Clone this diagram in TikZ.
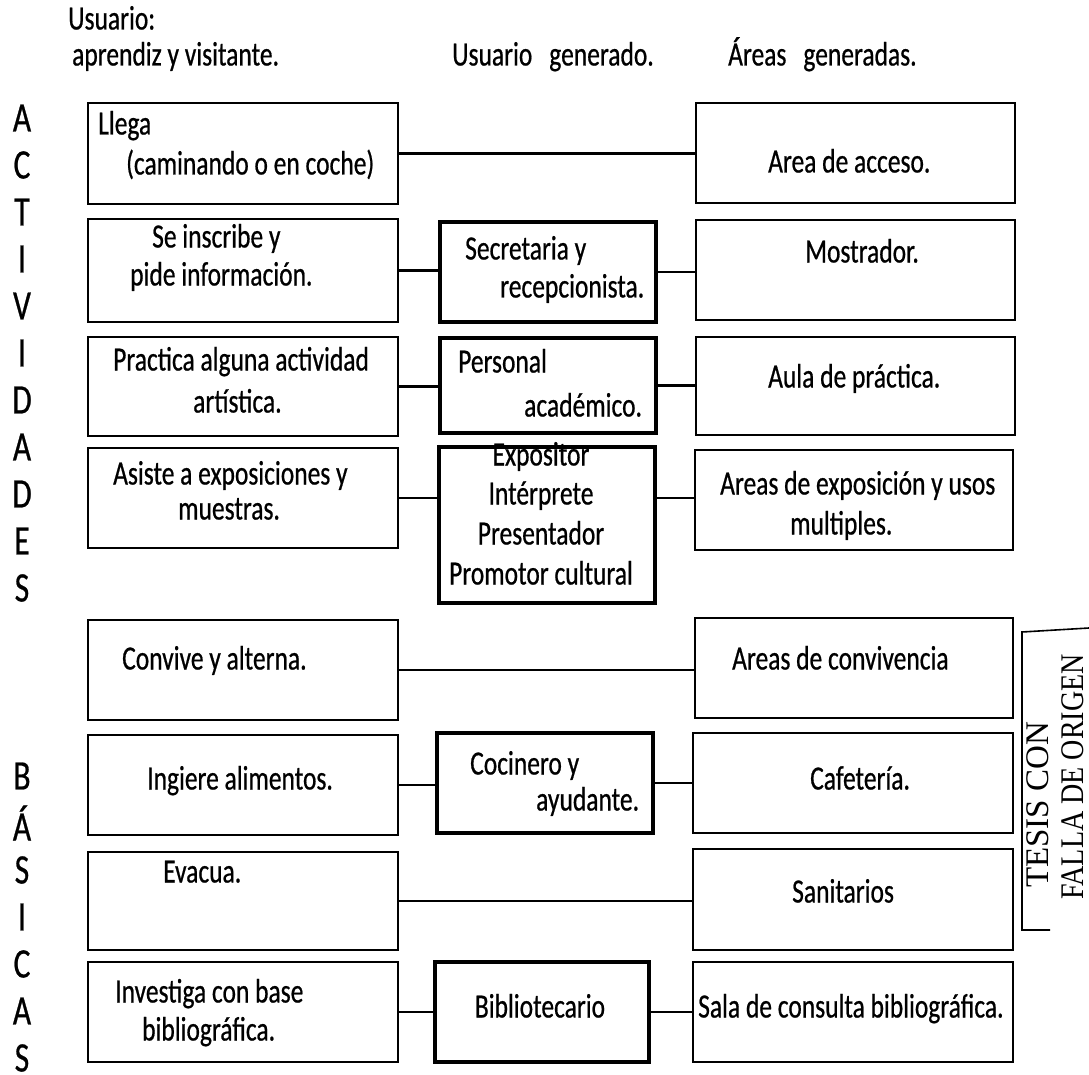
\documentclass[tikz,border=0pt]{standalone}
\usepackage{fontspec}
\setmainfont{Carlito}[FakeStretch=0.75, FakeBold=0.6]
\newfontfamily\stampfont{Liberation Serif}
\begin{document}
\begin{tikzpicture}[x=1pt,y=-1pt,
  box/.style={draw, line width=2.2pt, inner sep=0pt, outer sep=0pt, anchor=north west},
  midbox/.style={box, line width=3.4pt},
  txt/.style={anchor=west, inner sep=0pt, font=\fontsize{34}{38}\selectfont, text height=0.75em, text depth=0.25em},
  ctxt/.style={txt, anchor=center},
  letter/.style={inner sep=0pt, font=\fontsize{42}{42}\selectfont},
  conn/.style={line width=2.2pt},
  stamp/.style={rotate=90, inner sep=0pt, font=\stampfont\fontsize{33}{33}\selectfont},
]
\fill[white] (0,0) rectangle (1089,1075);
\useasboundingbox (0,0) rectangle (1089,1075);

% headers
\node[txt] (h1) at (68,27) {Usuario:};
\node[txt] (h2) at (72,63) {aprendiz y visitante.};
\node[txt] (h3) at (452,63) {Usuario\hspace{0.5em}generado.};
\node[txt] (h4) at (728,63) {Áreas\hspace{0.5em}generadas.};

% vertical words
\foreach \l [count=\i from 0] in {A,C,T,I,V,I,D,A,D,E,S}
  \node[letter] (act\i) at (22,118+47*\i) {\l};
\foreach \l [count=\i from 0] in {B,Á,S,I,C,A,S}
  \node[letter] (bas\i) at (22,776+47*\i) {\l};

% left column boxes
\node[box, minimum width=310, minimum height=101] (llega) at (88,103) {};
\node[box, minimum width=310, minimum height=103] (inscribe) at (88,219) {};
\node[box, minimum width=310, minimum height=99] (practica) at (88,337) {};
\node[box, minimum width=310, minimum height=100] (asiste) at (88,448) {};
\node[box, minimum width=310, minimum height=100] (convive) at (88,620) {};
\node[box, minimum width=310, minimum height=100] (ingiere) at (88,735) {};
\node[box, minimum width=310, minimum height=98] (evacua) at (88,852) {};
\node[box, minimum width=310, minimum height=100] (investiga) at (88,962) {};

% middle column boxes
\node[midbox, minimum width=216, minimum height=100] (secretaria) at (440,222) {};
\node[midbox, minimum width=216, minimum height=95] (personal) at (440,338) {};
\node[midbox, minimum width=216, minimum height=156] (expositor) at (439,447) {};
\node[midbox, minimum width=216, minimum height=100] (cocinero) at (437,733) {};
\node[midbox, minimum width=214, minimum height=100] (biblio) at (435,962) {};

% right column boxes
\node[box, minimum width=319, minimum height=100] (acceso) at (696,103) {};
\node[box, minimum width=319, minimum height=100] (mostrador) at (696,220) {};
\node[box, minimum width=319, minimum height=98] (aula) at (696,337) {};
\node[box, minimum width=318, minimum height=100] (areasexp) at (695,450) {};
\node[box, minimum width=318, minimum height=100] (areasconv) at (695,618) {};
\node[box, minimum width=320, minimum height=100] (cafeteria) at (693,733) {};
\node[box, minimum width=320, minimum height=101] (sanitarios) at (693,849) {};
\node[box, minimum width=320, minimum height=100] (sala) at (693,962) {};

% connectors
\draw[conn] (llega.east) -- (llega.east -| acceso.west);
\draw[conn] (inscribe.east) -- (inscribe.east -| secretaria.west);
\draw[conn] (secretaria.east) -- (secretaria.east -| mostrador.west);
\draw[conn] (practica.east) -- (practica.east -| personal.west);
\draw[conn] (personal.east) -- (personal.east -| aula.west);
\draw[conn] (asiste.east) -- (asiste.east -| expositor.west);
\draw[conn] (expositor.east |- asiste.east) -- (areasexp.west |- asiste.east);
\draw[conn] (convive.east) -- (convive.east -| areasconv.west);
\draw[conn] (ingiere.east) -- (ingiere.east -| cocinero.west);
\draw[conn] (cocinero.east) -- (cocinero.east -| cafeteria.west);
\draw[conn] (evacua.east) -- (evacua.east -| sanitarios.west);
\draw[conn] (investiga.east) -- (investiga.east -| biblio.west);
\draw[conn] (biblio.east) -- (biblio.east -| sala.west);

% left texts
\node[txt] (tllega1) at (98,132) {Llega};
\node[txt] (tllega2) at (126,172) {(caminando o en coche)};
\node[txt] (tins1) at (152,245) {Se inscribe y};
\node[txt] (tins2) at (130,283) {pide información.};
\node[txt] (tprac1) at (113,368) {Practica alguna actividad};
\node[txt] (tprac2) at (193,410) {artística.};
\node[txt] (tasis1) at (113,482) {Asiste a exposiciones y};
\node[txt] (tasis2) at (178,517) {muestras.};
\node[txt] (tconv) at (122,667) {Convive y alterna.};
\node[txt] (ting) at (147,787) {Ingiere alimentos.};
\node[txt] (teva) at (163,880) {Evacua.};
\node[txt] (tinv1) at (115,1000) {Investiga con base};
\node[txt] (tinv2) at (142,1038) {bibliográfica.};

% middle texts
\node[txt] (tsec1) at (465,257) {Secretaria y};
\node[txt] (tsec2) at (500,295) {recepcionista.};
\node[txt] (tper1) at (458,370) {Personal};
\node[txt] (tper2) at (524,414) {académico.};
\node[ctxt] (texp1) at (541,463) {Expositor};
\node[ctxt] (texp2) at (541,502) {Intérprete};
\node[ctxt] (texp3) at (541,542) {Presentador};
\node[ctxt] (texp4) at (541,582) {Promotor cultural};
\node[txt] (tcoc1) at (470,772) {Cocinero y};
\node[txt] (tcoc2) at (536,808) {ayudante.};
\node[ctxt] (tbib) at (540,1015) {Bibliotecario};

% right texts
\node[txt] (tacc) at (768,170) {Area de acceso.};
\node[txt] (tmos) at (805,260) {Mostrador.};
\node[txt] (taula) at (768,385) {Aula de práctica.};
\node[txt] (taexp1) at (720,492) {Areas de exposición y usos};
\node[txt] (taexp2) at (790,532) {multiples.};
\node[txt] (taconv) at (732,667) {Areas de convivencia};
\node[txt] (tcafe) at (810,787) {Cafetería.};
\node[txt] (tsani) at (792,900) {Sanitarios};
\node[txt] (tsala) at (698,1015) {Sala de consulta bibliográfica.};

% stamp
\coordinate (s1) at (1089,628);
\coordinate (s2) at (1022,632);
\coordinate (s3) at (1022,930);
\coordinate (s4) at (1050,930);
\draw[line width=1.6pt] (s1) -- (s2) -- (s3) -- (s4);
\node[stamp] (stamp1) at (1038,805) {TESIS CON};
\node[stamp] (stamp2) at (1073,777) {\scalebox{0.85}[1]{FALLA DE ORIGEN}};
\end{tikzpicture}
\end{document}
